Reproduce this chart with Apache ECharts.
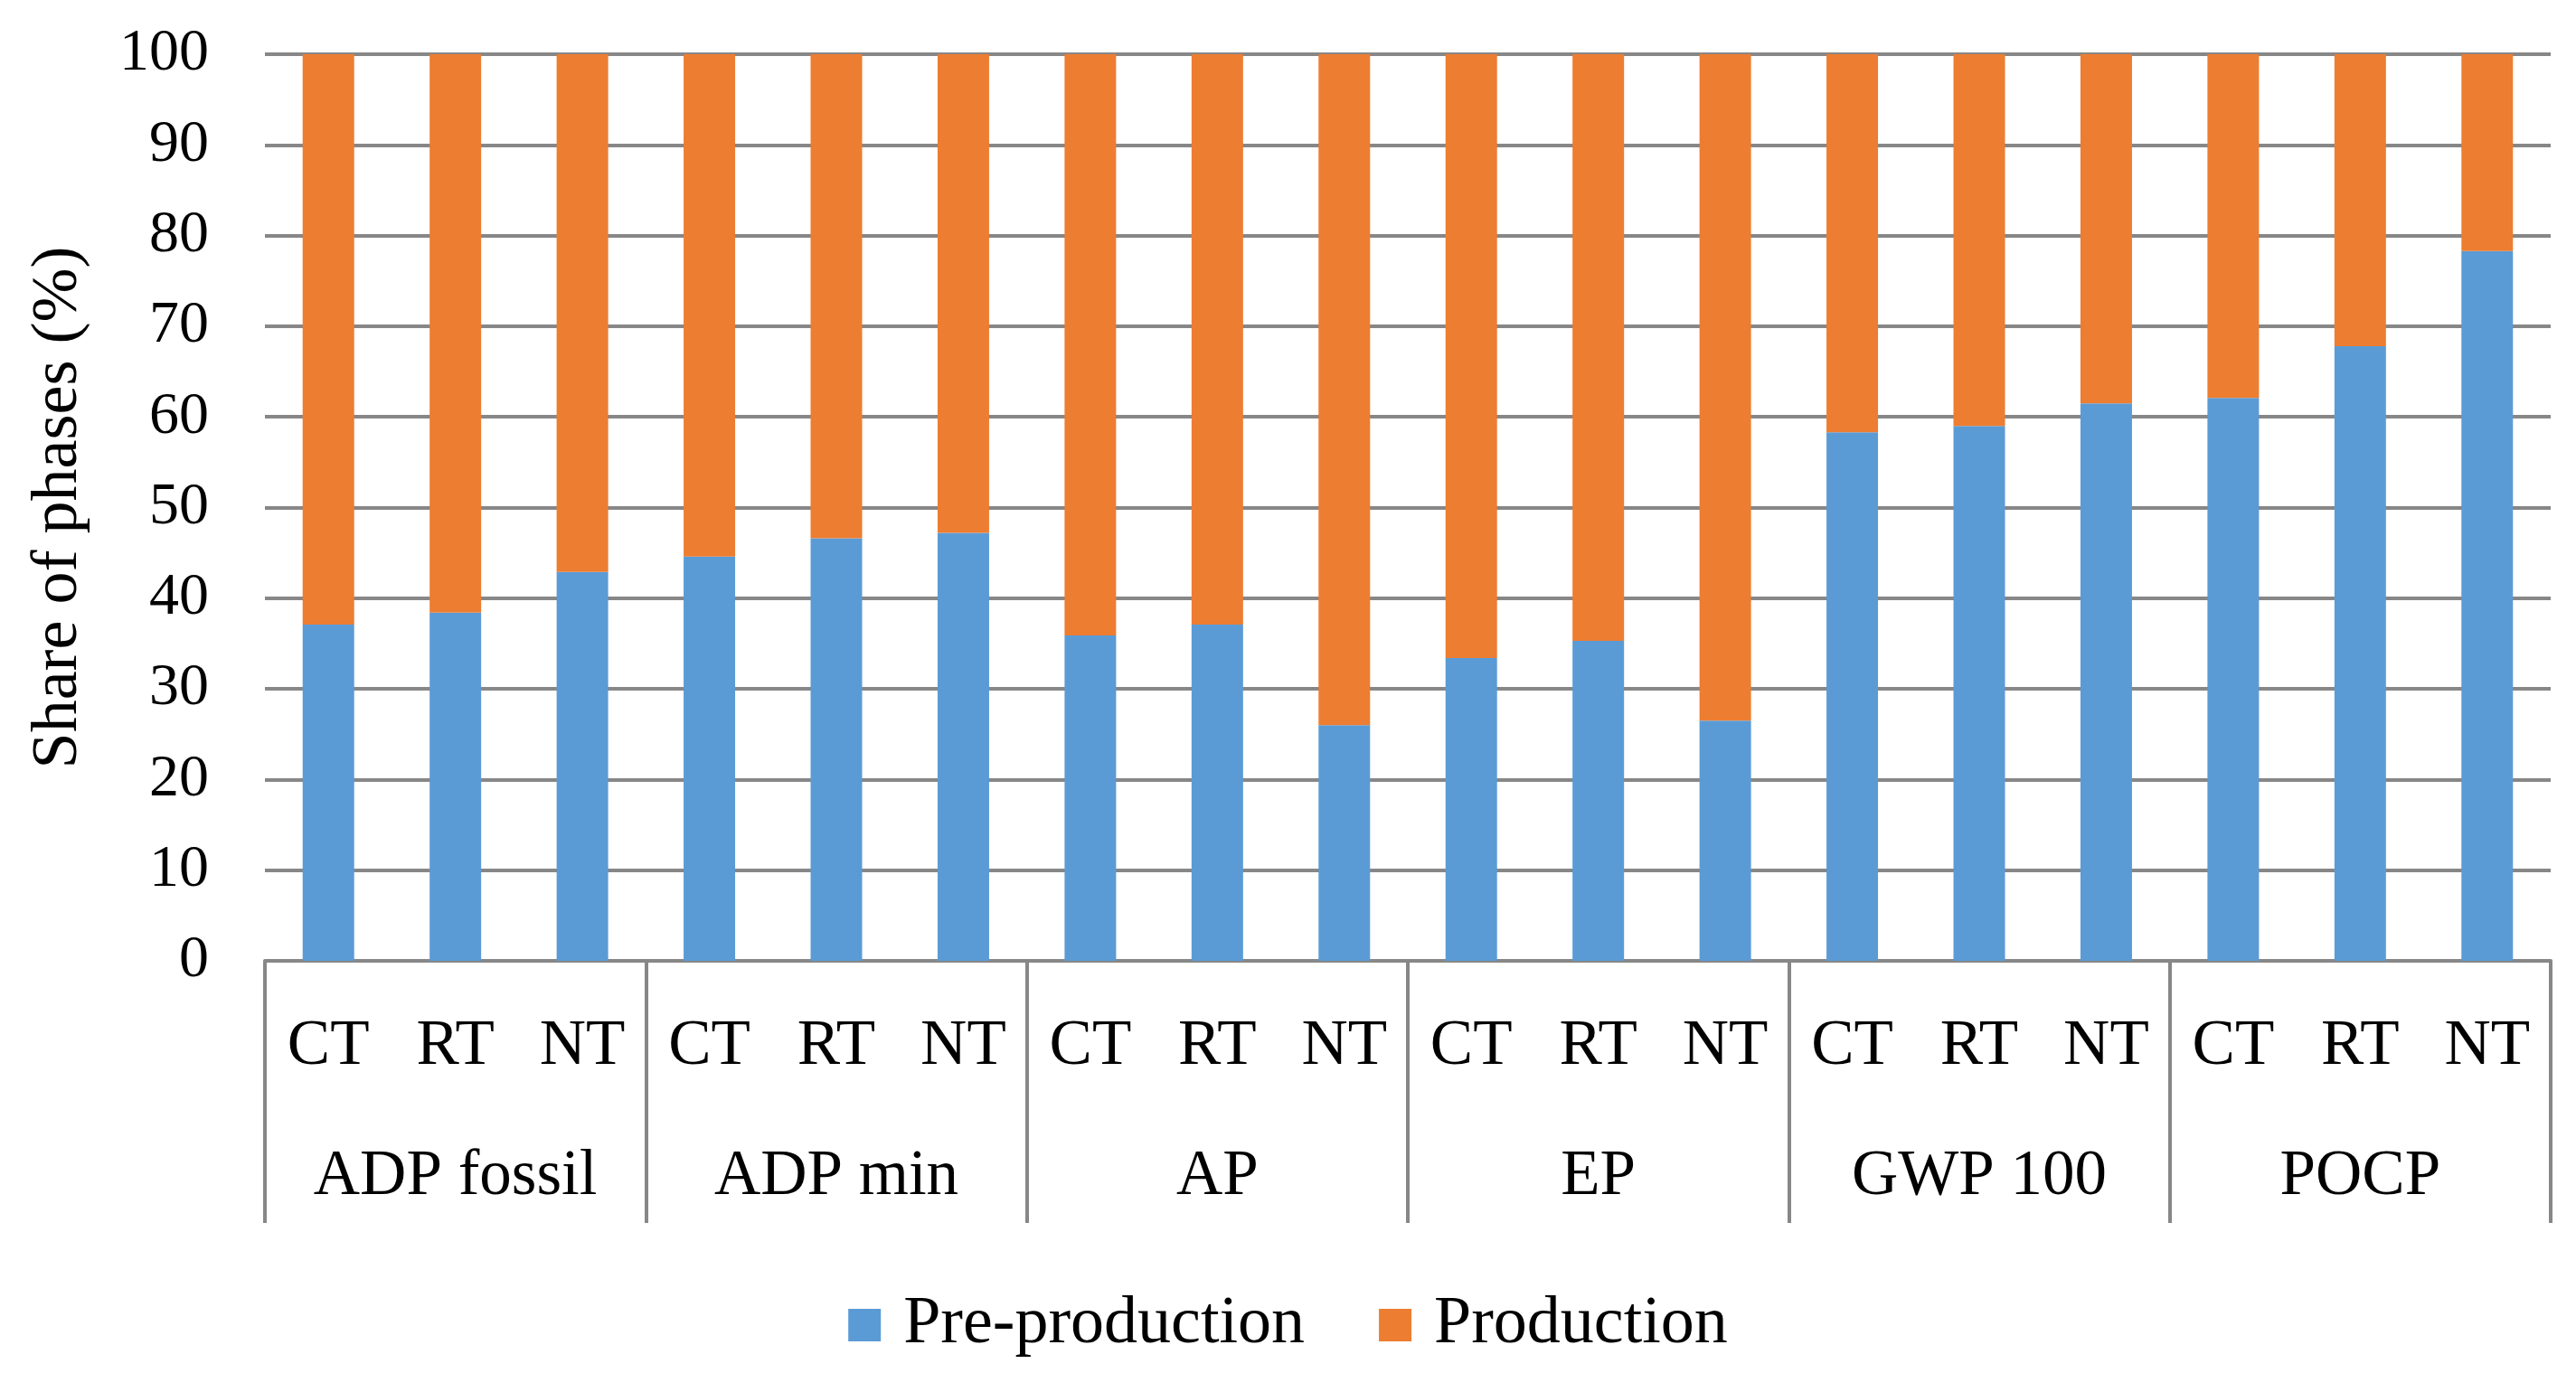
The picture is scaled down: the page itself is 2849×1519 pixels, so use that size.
<!DOCTYPE html>
<html>
<head>
<meta charset="utf-8">
<script src="https://cdn.jsdelivr.net/npm/echarts@6/dist/echarts.min.js"></script>
<style>
html,body{margin:0;padding:0;background:#fff;}
#chart{width:2849px;height:1519px;}
</style>
</head>
<body>
<div id="chart"></div>
<script>
// Data
const treatments = ['CT','RT','NT'];
const groups = ['ADP fossil','ADP min','AP','EP','GWP 100','POCP'];
const subCategories = ['CT','RT','NT','CT','RT','NT','CT','RT','NT','CT','RT','NT','CT','RT','NT','CT','RT','NT'];
const preProduction = [37.1, 38.4, 42.9, 44.6, 46.6, 47.2, 35.9, 37.1, 26.0, 33.4, 35.3, 26.5, 58.3, 59.0, 61.5, 62.1, 67.8, 78.3];
const production    = [62.9, 61.6, 57.1, 55.4, 53.4, 52.8, 64.1, 62.9, 74.0, 66.6, 64.7, 73.5, 41.7, 41.0, 38.5, 37.9, 32.2, 21.7];
const yTicks = [0, 100, 10];
const seriesNames = ['Pre-production','Production'];

const FONT = 'Liberation Serif';
const GRAY = '#878787';

const chart = echarts.init(document.getElementById('chart'), null, {renderer:'canvas'});
chart.setOption({
  backgroundColor:'#ffffff',
  animation:false,
  textStyle:{fontFamily:FONT, color:'#000'},
  grid:{left:293, right:28, top:60, bottom:456, containLabel:false, outerBoundsMode:'none'},
  legend:{
    data:seriesNames,
    left:'center',
    top:1424,
    icon:'rect',
    itemWidth:36,
    itemHeight:36,
    itemGap:82,
    textStyle:{fontFamily:FONT, fontSize:74, color:'#000', padding:[0,0,0,20]}
  },
  xAxis:[
    {
      type:'category',
      position:'bottom',
      data:subCategories,
      axisLine:{show:true, lineStyle:{color:GRAY, width:4}},
      axisTick:{show:false},
      splitLine:{show:false},
      axisLabel:{interval:0, margin:60, fontFamily:FONT, fontSize:71, color:'#000'}
    },
    {
      type:'category',
      position:'bottom',
      offset:0,
      data:groups,
      axisLine:{show:false},
      axisTick:{show:true, interval:0, length:290, inside:false, lineStyle:{color:GRAY, width:4}},
      splitLine:{show:false},
      axisLabel:{interval:0, margin:204, fontFamily:FONT, fontSize:71, color:'#000'}
    }
  ],
  yAxis:{
    type:'value',
    min:yTicks[0], max:yTicks[1], interval:yTicks[2],
    name:'Share of phases (%)',
    nameLocation:'middle',
    nameGap:192,
    nameTextStyle:{fontFamily:FONT, fontSize:72, color:'#000'},
    axisLine:{show:false},
    axisTick:{show:false},
    splitLine:{show:true, lineStyle:{color:GRAY, width:4}},
    axisLabel:{margin:62, fontFamily:FONT, fontSize:66, color:'#000'}
  },
  series:[
    {
      name:seriesNames[0], type:'bar', stack:'total', xAxisIndex:0,
      barWidth:57,
      itemStyle:{color:'#5B9BD5'},
      data:preProduction
    },
    {
      name:seriesNames[1], type:'bar', stack:'total', xAxisIndex:0,
      barWidth:57,
      itemStyle:{color:'#ED7D31'},
      data:production
    }
  ]
});
</script>
</body>
</html>
